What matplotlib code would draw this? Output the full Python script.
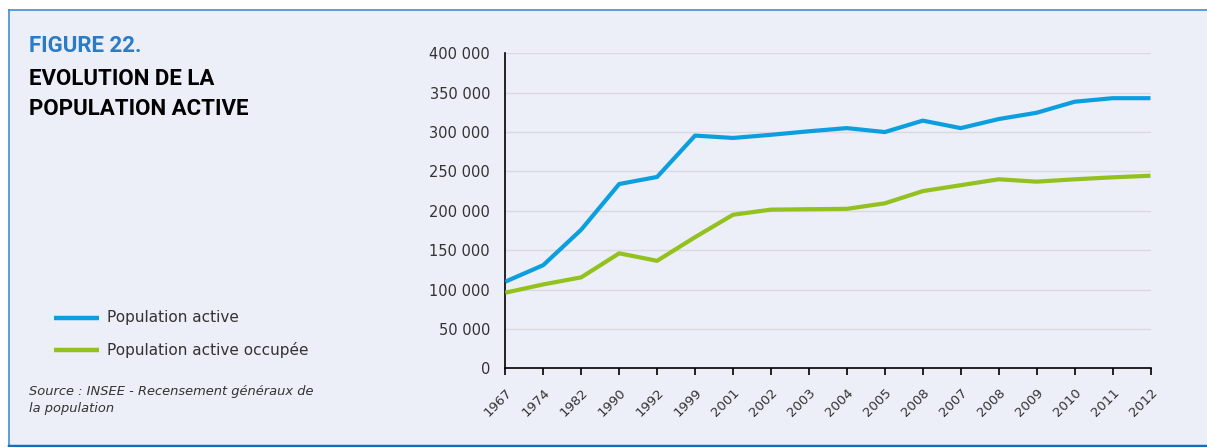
import matplotlib.pyplot as plt
from matplotlib.lines import Line2D
from matplotlib.patches import Rectangle
from matplotlib.ticker import FuncFormatter, MultipleLocator

# Données
annees = ["1967", "1974", "1982", "1990", "1992", "1999", "2001", "2002", "2003",
          "2004", "2005", "2008", "2007", "2008", "2009", "2010", "2011", "2012"]
pop_active = [110000, 131000, 176000, 234000, 243000, 295500, 292500, 296500, 301000,
              305000, 300000, 314500, 305000, 316500, 324500, 338500, 343000, 343000]
pop_occupee = [96000, 106500, 115500, 146000, 136500, 166500, 195000, 201500, 202000,
               202500, 209500, 225000, 232500, 240000, 237000, 240000, 242500, 244500]

bleu = "#0B9FE0"
vert = "#93C11E"
fond = "#ECEEF8"
texte = "#333333"

fig = plt.figure(figsize=(12.07, 4.47), dpi=100, facecolor="white")

# Cadre de fond
fig.patches.append(Rectangle((9 / 1207, 2 / 447), 1 - 9 / 1207, 435 / 447,
                             transform=fig.transFigure, facecolor=fond,
                             edgecolor="none", zorder=-5))
fig.lines.append(Line2D([9 / 1207, 1], [437 / 447, 437 / 447], transform=fig.transFigure,
                        color="#3F8FD6", lw=1.2, zorder=-4))
fig.lines.append(Line2D([9 / 1207, 9 / 1207], [2 / 447, 437 / 447], transform=fig.transFigure,
                        color="#3F8FD6", lw=1.2, zorder=-4))
fig.lines.append(Line2D([9 / 1207, 1], [1.5 / 447, 1.5 / 447], transform=fig.transFigure,
                        color="#1C6DB5", lw=2.5, zorder=-4))

ax = fig.add_axes([505.3 / 1207, 1 - 368.3 / 447, 645.2 / 1207, 315 / 447])
ax.set_facecolor(fond)
x = range(len(annees))
ax.plot(x, pop_active, color=bleu, lw=3, solid_capstyle="butt", zorder=3)
ax.plot(x, pop_occupee, color=vert, lw=3, solid_capstyle="butt", zorder=3)

ax.set_xlim(0, len(annees) - 1)
ax.set_ylim(0, 400000)
ax.yaxis.set_major_locator(MultipleLocator(50000))
ax.yaxis.set_major_formatter(FuncFormatter(lambda v, p: f"{int(v):,}".replace(",", " ")))
ax.set_xticks(list(x))
ax.set_xticklabels(annees, rotation=45, ha="right", rotation_mode="anchor")

ax.grid(axis="y", color="#D9D9DE", lw=1)
ax.set_axisbelow(True)
for s in ["top", "right"]:
    ax.spines[s].set_visible(False)
for s in ["left", "bottom"]:
    ax.spines[s].set_color("black")
    ax.spines[s].set_linewidth(1.2)
ax.tick_params(axis="y", length=0, pad=11, labelsize=10.5, labelcolor=texte)
ax.tick_params(axis="x", length=5, width=1.2, pad=8, labelsize=9.5, labelcolor=texte)

# Titre
titre_font = ["Roboto", "DejaVu Sans"]
fig.text(29 / 1207, 1 - 52 / 447, "FIGURE 22.", color="#2A7CC6", fontsize=16,
         fontweight="bold", family=titre_font, va="baseline")
fig.text(29 / 1207, 1 - 85 / 447, "EVOLUTION DE LA", color="black", fontsize=16,
         fontweight="bold", family=titre_font, va="baseline")
fig.text(29 / 1207, 1 - 115 / 447, "POPULATION ACTIVE", color="black", fontsize=16,
         fontweight="bold", family=titre_font, va="baseline")

# Légende
for y, c, lab in [(317.5, bleu, "Population active"), (349.5, vert, "Population active occupée")]:
    fig.lines.append(Line2D([54 / 1207, 99 / 1207], [1 - y / 447] * 2, transform=fig.transFigure,
                            color=c, lw=3.2, solid_capstyle="butt"))
    fig.text(107 / 1207, 1 - y / 447, lab, color=texte, fontsize=11, va="center")

# Source
fig.text(29 / 1207, 1 - 412 / 447, "Source : INSEE - Recensement généraux de\nla population",
         color=texte, fontsize=9.4, style="italic", va="baseline", linespacing=1.45)

fig.savefig("out.png", dpi=100, facecolor="white")
